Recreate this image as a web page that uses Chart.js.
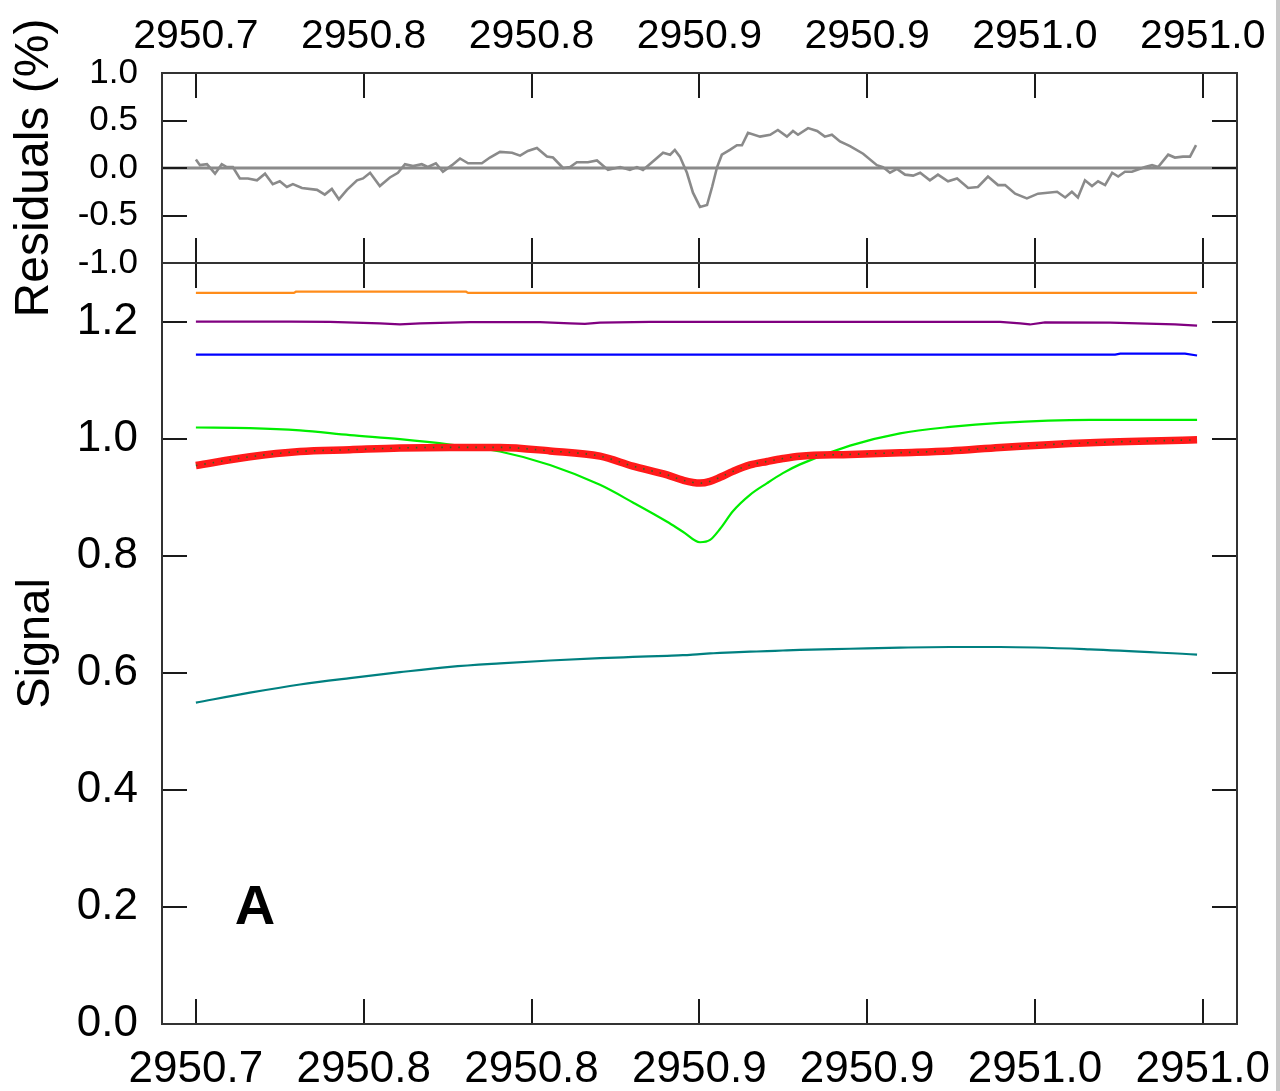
<!DOCTYPE html>
<html>
<head>
<meta charset="utf-8">
<script src="https://cdn.jsdelivr.net/npm/chart.js@4.4.1/dist/chart.umd.min.js"></script>
<style>
html,body{margin:0;padding:0;background:#fff;width:1280px;height:1091px;overflow:hidden;}
#top{position:absolute;left:0;top:0;}
#bot{position:absolute;left:0;top:262px;}
#edge{position:absolute;left:1276px;top:0;width:4px;height:1091px;background:#c8c8c8;}
</style>
</head>
<body>
<canvas id="top" width="1280" height="340" style="width:1280px;height:340px"></canvas>
<canvas id="bot" width="1280" height="829" style="width:1280px;height:829px"></canvas>
<div id="edge"></div>
<script>
// ---------- axes ----------
const X_MIN = 2950.6899;
const X_MAX = 2951.0102;
const xTickValues = [2950.70, 2950.75, 2950.80, 2950.85, 2950.90, 2950.95, 2951.00];
const xTickLabels = ['2950.7', '2950.8', '2950.8', '2950.9', '2950.9', '2951.0', '2951.0'];
const resTickValues = [-1.0, -0.5, 0.0, 0.5, 1.0];
const resTickLabels = ['-1.0', '-0.5', '0.0', '0.5', '1.0'];
const sigTickValues = [0.0, 0.2, 0.4, 0.6, 0.8, 1.0, 1.2];
const sigTickLabels = ['0.0', '0.2', '0.4', '0.6', '0.8', '1.0', '1.2'];
const RES_MIN = -1.0, RES_MAX = 1.0;
const SIG_MIN = 0.0, SIG_MAX = 1.3;

// ---------- residuals (%) ----------
const resX = [2950.7000,2950.7012,2950.7033,2950.7057,2950.7077,2950.7092,2950.7110,2950.7131,2950.7155,2950.7182,
  2950.7206,2950.7229,2950.7250,2950.7271,2950.7289,2950.7316,2950.7361,2950.7384,2950.7405,2950.7426,
  2950.7450,2950.7480,2950.7498,2950.7519,2950.7548,2950.7578,2950.7602,2950.7623,2950.7647,2950.7673,
  2950.7691,2950.7715,2950.7736,2950.7763,2950.7787,2950.7811,2950.7852,2950.7876,2950.7906,2950.7942,
  2950.7966,2950.7989,2950.8016,2950.8046,2950.8064,2950.8094,2950.8115,2950.8135,2950.8168,2950.8195,
  2950.8228,2950.8264,2950.8293,2950.8314,2950.8332,2950.8359,2950.8392,2950.8413,2950.8427,2950.8442,
  2950.8463,2950.8481,2950.8502,2950.8523,2950.8538,2950.8553,2950.8567,2950.8591,2950.8612,2950.8627,
  2950.8645,2950.8681,2950.8711,2950.8734,2950.8761,2950.8779,2950.8794,2950.8824,2950.8851,2950.8874,
  2950.8895,2950.8919,2950.8949,2950.8988,2950.9029,2950.9047,2950.9068,2950.9089,2950.9113,2950.9137,
  2950.9158,2950.9187,2950.9211,2950.9241,2950.9268,2950.9301,2950.9330,2950.9360,2950.9390,2950.9411,
  2950.9441,2950.9476,2950.9509,2950.9566,2950.9590,2950.9610,2950.9628,2950.9649,2950.9670,2950.9688,
  2950.9709,2950.9730,2950.9748,2950.9768,2950.9789,2950.9828,2950.9849,2950.9867,2950.9897,2950.9917,
  2950.9941,2950.9962,2950.9980];
const resY = [0.09,0.03,0.04,-0.06,0.04,0.01,0.01,-0.11,-0.11,-0.13,
  -0.06,-0.17,-0.14,-0.20,-0.17,-0.21,-0.23,-0.28,-0.22,-0.33,
  -0.23,-0.13,-0.11,-0.05,-0.19,-0.10,-0.05,0.04,0.02,0.04,
  0.01,0.05,-0.04,0.03,0.10,0.05,0.05,0.11,0.17,0.16,
  0.13,0.18,0.21,0.12,0.11,0.00,0.01,0.06,0.06,0.08,
  -0.02,0.01,-0.02,0.01,-0.02,0.06,0.16,0.14,0.19,0.12,
  -0.05,-0.26,-0.41,-0.39,-0.20,0.01,0.14,0.19,0.24,0.24,
  0.37,0.33,0.35,0.40,0.33,0.39,0.35,0.42,0.39,0.33,
  0.35,0.28,0.23,0.15,0.03,0.01,-0.05,-0.01,-0.07,-0.08,
  -0.05,-0.13,-0.07,-0.14,-0.11,-0.21,-0.20,-0.09,-0.18,-0.18,
  -0.27,-0.32,-0.27,-0.25,-0.31,-0.25,-0.31,-0.13,-0.19,-0.14,
  -0.18,-0.05,-0.09,-0.04,-0.04,0.01,0.03,0.01,0.14,0.11,
  0.12,0.12,0.24];

// ---------- signal ----------
const sigX = [2950.7000,2950.7161,2950.7310,2950.7459,2950.7608,2950.7757,2950.7906,2950.8055,2950.8204,2950.8302,
  2950.8404,2950.8451,2950.8502,2950.8532,2950.8562,2950.8600,2950.8651,2950.8702,2950.8749,2950.8800,
  2950.8949,2950.9098,2950.9247,2950.9396,2950.9664,2950.9983];
const greenY = [1.019,1.018,1.014,1.006,0.999,0.990,0.978,0.955,0.921,0.891,
  0.858,0.841,0.823,0.827,0.846,0.876,0.904,0.924,0.941,0.956,
  0.988,1.009,1.020,1.027,1.032,1.032];
const redY = [0.954,0.969,0.978,0.981,0.984,0.985,0.985,0.979,0.970,0.953,
  0.938,0.929,0.924,0.927,0.934,0.944,0.955,0.961,0.966,0.970,
  0.973,0.976,0.979,0.985,0.993,0.998];
const tealY = [0.549,0.566,0.580,0.591,0.601,0.610,0.616,0.621,0.625,0.627,
  0.629,0.630,0.632,0.633,0.634,0.635,0.636,0.637,0.638,0.639,
  0.641,0.643,0.644,0.644,0.640,0.631];
const orangeX = [2950.7000,2950.7292,2950.7298,2950.7805,2950.7811,2950.9983];
const orangeY = [1.249,1.249,1.251,1.251,1.249,1.249];
const purpleX = [2950.7000,2950.7280,2950.7399,2950.7548,2950.7608,2950.7668,2950.7817,2950.8025,2950.8115,2950.8159,
  2950.8204,2950.8353,2950.9396,2950.9456,2950.9485,2950.9530,2950.9724,2950.9917,2950.9983];
const purpleY = [1.200,1.200,1.1995,1.197,1.195,1.197,1.199,1.199,1.197,1.196,
  1.198,1.1995,1.1995,1.197,1.195,1.1985,1.198,1.195,1.193];
const blueX = [2950.7000,2950.9739,2950.9754,2950.9947,2950.9983];
const blueY = [1.1435,1.1435,1.1452,1.1452,1.142];

const panelLabel = 'A';
const panelLabelX = 2950.7176, panelLabelY = 0.198;

// ---------- helpers ----------
const zip = (xs, ys) => xs.map((x, i) => ({x: x, y: ys[i]}));
const FONT = "'Liberation Sans', Arial, sans-serif";
const TICK = 25;

const framePlugin = {
  id: 'frame',
  afterDatasetsDraw(chart, args, opts) {
    const ctx = chart.ctx, a = chart.chartArea;
    const xs = chart.scales.x, ys = chart.scales.y;
    ctx.save();
    ctx.strokeStyle = '#1a1a1a';
    ctx.lineWidth = 2;
    ctx.beginPath();
    xTickValues.forEach(v => {
      const p = Math.round(xs.getPixelForValue(v));
      ctx.moveTo(p, a.top); ctx.lineTo(p, a.top + TICK);
      ctx.moveTo(p, a.bottom); ctx.lineTo(p, a.bottom - TICK);
    });
    (opts.yTicks || []).forEach(v => {
      const p = Math.round(ys.getPixelForValue(v));
      ctx.moveTo(a.left, p); ctx.lineTo(a.left + TICK, p);
      ctx.moveTo(a.right, p); ctx.lineTo(a.right - TICK, p);
    });
    ctx.stroke();
    ctx.strokeStyle = '#333';
    ctx.strokeRect(a.left, a.top, a.right - a.left, a.bottom - a.top);
    if (opts.label) {
      ctx.fillStyle = '#000';
      ctx.font = "bold 56px " + FONT;
      ctx.textAlign = 'center';
      ctx.textBaseline = 'middle';
      ctx.fillText(opts.label, xs.getPixelForValue(opts.lx), ys.getPixelForValue(opts.ly));
    }
    ctx.restore();
  }
};

function noPad(s) { s.paddingTop = 0; s.paddingBottom = 0; s.paddingLeft = 0; s.paddingRight = 0; }

function xScale(position, height, fontSize, pad) {
  return {
    type: 'linear', position: position, min: X_MIN, max: X_MAX,
    afterFit: s => { s.height = height; noPad(s); },
    afterBuildTicks: s => { s.ticks = xTickValues.map(v => ({value: v})); },
    grid: {display: false, drawTicks: false},
    border: {display: false},
    ticks: {
      autoSkip: false, maxRotation: 0, minRotation: 0, padding: pad, color: '#000',
      font: {family: FONT, size: fontSize},
      callback: (v, i) => xTickLabels[i]
    }
  };
}
function yScale(min, max, values, labels, fontSize, pad, title, titleSize, titlePad) {
  return {
    type: 'linear', position: 'left', min: min, max: max,
    afterFit: s => { s.width = 162; noPad(s); },
    afterBuildTicks: s => { s.ticks = values.map(v => ({value: v})); },
    grid: {display: false, drawTicks: false},
    border: {display: false},
    ticks: {
      autoSkip: false, padding: pad, color: '#000', font: {family: FONT, size: fontSize},
      callback: (v, i) => labels[i]
    },
    title: {display: true, text: title, color: '#000', font: {family: FONT, size: titleSize}, padding: {top: titlePad, bottom: 0}}
  };
}
const lineDs = (data, color, width, extra) => Object.assign({
  data: data, borderColor: color, borderWidth: width, pointRadius: 0, fill: false,
  cubicInterpolationMode: 'monotone', xAxisID: 'x', yAxisID: 'y'
}, extra || {});

// ---------- top: residuals ----------
new Chart(document.getElementById('top'), {
  type: 'line',
  data: {datasets: [
    lineDs(zip(resX, resY), '#8a8a8a', 2.6, {cubicInterpolationMode: 'default', tension: 0}),
    lineDs(zip([X_MIN, X_MAX], [0, 0]), '#8a8a8a', 3, {cubicInterpolationMode: 'default', tension: 0})
  ]},
  options: {
    responsive: false, animation: false, events: [],
    layout: {padding: {left: 0, right: 43, top: 0, bottom: 77}},
    plugins: {legend: {display: false}, tooltip: {enabled: false}, frame: {yTicks: resTickValues}},
    scales: {
      x: xScale('top', 73, 41, 12),
      y: yScale(RES_MIN, RES_MAX, resTickValues, resTickLabels, 35, 24, 'Residuals (%)', 48, 6)
    }
  },
  plugins: [framePlugin]
});

// ---------- bottom: signal ----------
new Chart(document.getElementById('bot'), {
  type: 'line',
  data: {datasets: [
    lineDs(zip(sigX, redY), '#2f6b1f', 1.6, {borderDash: [1.5, 7]}),
    lineDs(zip(sigX, redY), '#ff1a1a', 7.5),
    lineDs(zip(sigX, greenY), '#00ee00', 2.2),
    lineDs(zip(sigX, tealY), '#008080', 2.2),
    lineDs(zip(blueX, blueY), '#0000ff', 2.2, {cubicInterpolationMode: 'default', tension: 0}),
    lineDs(zip(purpleX, purpleY), '#800080', 2.2, {cubicInterpolationMode: 'default', tension: 0}),
    lineDs(zip(orangeX, orangeY), '#ff8c1a', 2.2, {cubicInterpolationMode: 'default', tension: 0})
  ]},
  options: {
    responsive: false, animation: false, events: [],
    layout: {padding: {left: 0, right: 43, top: 1, bottom: 0}},
    plugins: {legend: {display: false}, tooltip: {enabled: false},
      frame: {yTicks: sigTickValues, label: panelLabel, lx: panelLabelX, ly: panelLabelY}},
    scales: {
      x: xScale('bottom', 67, 44, 19),
      y: yScale(SIG_MIN, SIG_MAX, sigTickValues, sigTickLabels, 44, 24, 'Signal', 47, 8)
    }
  },
  plugins: [framePlugin]
});
</script>
</body>
</html>
